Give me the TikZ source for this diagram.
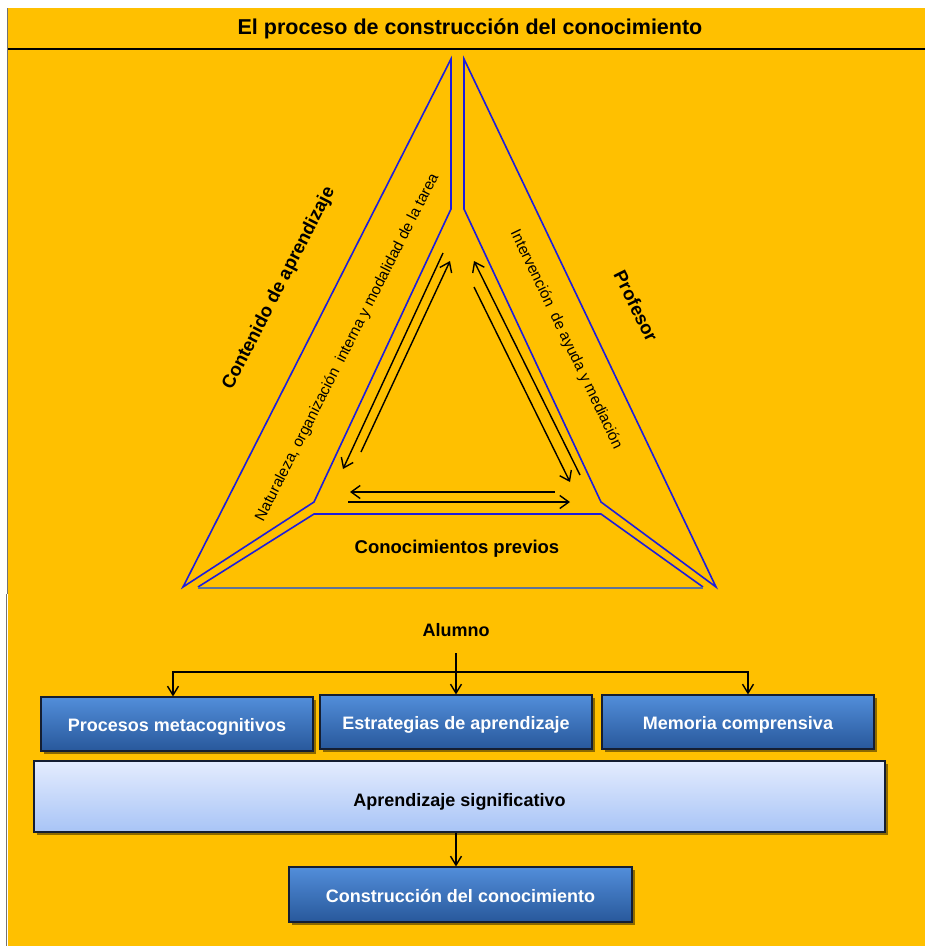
\documentclass[tikz,border=0pt]{standalone}
\usepackage{fontspec}
\setmainfont{Liberation Sans}
\usetikzlibrary{arrows.meta,shadows}

\definecolor{panel}{RGB}{255,192,0}
\definecolor{edgeblue}{RGB}{30,30,220}
\definecolor{basegray}{RGB}{95,115,150}
\definecolor{boxtop}{RGB}{82,142,218}
\definecolor{boxbot}{RGB}{40,88,155}
\definecolor{boxline}{RGB}{20,30,50}
\definecolor{paletop}{RGB}{228,236,254}
\definecolor{palebot}{RGB}{168,196,246}

\begin{document}
\begin{tikzpicture}[x=1pt,y=-1pt,
  band/.style={draw=edgeblue,line width=1.6pt,line join=miter},
  pair/.style={draw=black,line width=1.4pt,-{Straight Barb[length=9pt,width=13pt]}},
  conn/.style={draw=black,line width=1.4pt,-{Straight Barb[length=9pt,width=11pt]}},
  bigtext/.style={font=\fontsize{18.5}{21}\selectfont\bfseries},
  smalltext/.style={font=\fontsize{15.3}{18}\selectfont},
  bluebox/.style={draw=boxline,line width=1.1pt,top color=boxtop,bottom color=boxbot,
    text=white,font=\fontsize{18}{21}\selectfont\bfseries,inner sep=0pt,
    text height=19pt,text depth=4pt,
    drop shadow={shadow xshift=3pt,shadow yshift=-3pt,opacity=.45,fill=black}},
  palebox/.style={draw=boxline,line width=1.1pt,top color=paletop,bottom color=palebot,
    text=black,font=\fontsize{18}{21}\selectfont\bfseries,inner sep=0pt,
    text height=23pt,text depth=4pt,
    drop shadow={shadow xshift=3pt,shadow yshift=-3pt,opacity=.45,fill=black}}
]
\useasboundingbox (0,0) rectangle (925,946);

% background panel and its frame
\fill[white] (0,0) rectangle (925,946);
\fill[panel] (8,8) rectangle (925,946);
\draw[black!55,line width=1pt] (7.5,8) -- (7.5,594) (6.8,594) -- (6.8,946);

% title bar
\node[font=\fontsize{21.5}{24}\selectfont\bfseries] (title) at (470,29)
  {El proceso de construcción del conocimiento};
\draw[black,line width=2pt] (8,48.5) -- (925,48.5);

% the three bands of the triangle
\draw[band] (451,59) -- (451,209) -- (314,502) -- (183,587) -- cycle;
\draw[band] (464,59) -- (464,209) -- (601,502) -- (716,587) -- cycle;
\draw[band] (198,587) -- (314,514) -- (601,514) -- (703,587);
\draw[basegray,line width=1.5pt] (198,588) -- (703,588);

% band labels
\node[bigtext,rotate=62.8] (contenido) at (279,288.5) {Contenido de aprendizaje};
\node[smalltext,rotate=63.1] (naturaleza) at (347.5,347.5)
  {Naturaleza,\ organización\ \ interna\ y modalidad\ de la tarea};
\node[smalltext,rotate=-64.4] (intervencion) at (566,339.5)
  {Intervención\ \ de ayuda y mediación};
\node[bigtext,rotate=-63.5] (profesor) at (636,306) {Profesor};
\node[bigtext] (previos) at (457,549) {Conocimientos previos};

% interaction arrows inside the triangle
\coordinate (l1a) at (443,253); \coordinate (l1b) at (343,469);
\coordinate (l2a) at (361,452); \coordinate (l2b) at (450,261);
\coordinate (r1a) at (580,475); \coordinate (r1b) at (474,261);
\coordinate (r2a) at (474,287); \coordinate (r2b) at (570,482);
\coordinate (b1a) at (555,492); \coordinate (b1b) at (350,492);
\coordinate (b2a) at (348,502); \coordinate (b2b) at (570,502);
\draw[pair] (l1a) -- (l1b);
\draw[pair] (l2a) -- (l2b);
\draw[pair] (r1a) -- (r1b);
\draw[pair] (r2a) -- (r2b);
\draw[pair] (b1a) -- (b1b);
\draw[pair] (b2a) -- (b2b);

% learner and the process below
\node[font=\fontsize{18}{21}\selectfont\bfseries,inner sep=0pt,minimum height=46pt]
  (alumno) at (456,630) {Alumno};
\coordinate (junction) at (456,672);

\node[bluebox,minimum width=272pt,minimum height=54pt] (procesos) at (177,724)
  {Procesos metacognitivos};
\node[bluebox,minimum width=272pt,minimum height=54pt] (estrategias) at (456,722)
  {Estrategias de aprendizaje};
\node[bluebox,minimum width=272pt,minimum height=54pt] (memoria) at (738,722)
  {Memoria comprensiva};
\node[palebox,minimum width=851pt,minimum height=71pt] (aprendizaje) at (459.5,796.5)
  {Aprendizaje significativo};
\node[bluebox,minimum width=343pt,minimum height=55pt] (construccion) at (460.5,894.5)
  {Construcción del conocimiento};

\draw[conn] (alumno.south) -- (estrategias.north);
\draw[conn] (junction) -| ([xshift=-4pt]procesos.north);
\draw[conn] (junction) -| ([xshift=10pt]memoria.north);
\draw[conn] (aprendizaje.south -| alumno) -- (construccion.north -| alumno);
\end{tikzpicture}
\end{document}
